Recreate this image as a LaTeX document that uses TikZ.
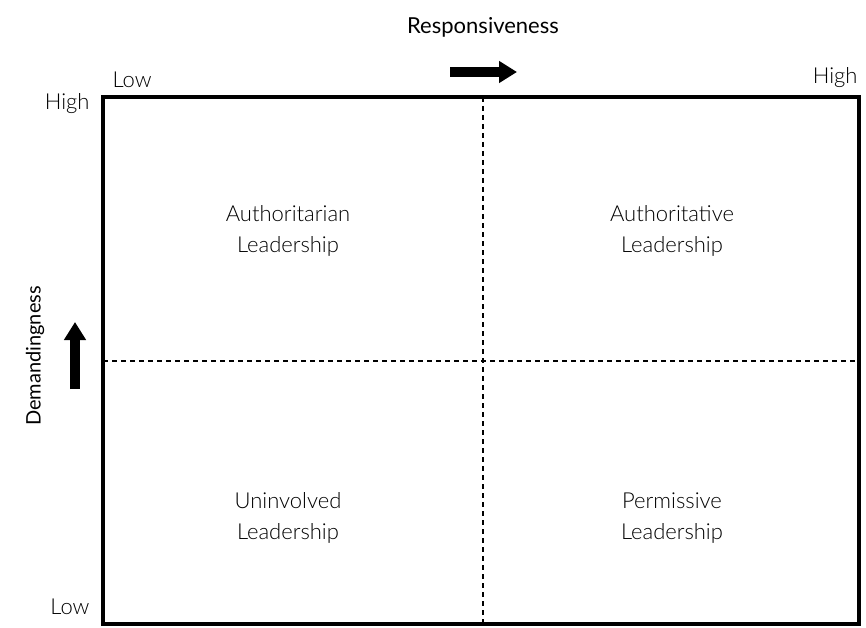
\documentclass[tikz,border=0pt]{standalone}
\usepackage{fontspec}
\setmainfont{Lato}[UprightFont={* Light},BoldFont={* Regular}]
\usetikzlibrary{arrows.meta}

\begin{document}
\begin{tikzpicture}[x=1pt,y=-1pt,
  quad/.style={align=center,font=\fontsize{22}{31}\selectfont},
  tick/.style={font=\fontsize{22}{24}\selectfont},
  axis/.style={font=\bfseries\fontsize{22}{24}\selectfont},
  bigarrow/.style={line width=10pt,-{Triangle[width=21pt,length=18pt]}}]
\useasboundingbox (0,0) rectangle (866,628);

% grid
\draw [line width=4pt] (103,97) rectangle (859,624);
\draw [dashed,line width=1.3pt,dash pattern=on 5pt off 4pt] (483,97) -- (483,624);
\draw [dashed,line width=1.3pt,dash pattern=on 5pt off 4pt] (103,361) -- (859,361);

% axes
\node [axis] (resp) at (483,27) {Responsiveness};
\node [axis,rotate=90,font=\bfseries\fontsize{20}{22}\selectfont] (dem) at (35,356) {Demandingness};
\draw [bigarrow] (450,72) -- (517,72);
\draw [bigarrow] (75,389) -- (75,322);

% ticks
\node [tick,anchor=south west] (xlow) at (109,91) {Low};
\node [tick,anchor=south east] (xhigh) at (861,91) {High};
\node [tick,anchor=east] (yhigh) at (93,104) {High};
\node [tick,anchor=east] (ylow) at (93,607) {Low};

% quadrants
\node [quad] (tl) at (288,231) {Authoritarian\\Leadership};
\node [quad] (tr) at (672,231) {Authoritative\\Leadership};
\node [quad] (bl) at (288,518) {Uninvolved\\Leadership};
\node [quad] (br) at (672,518) {Permissive\\Leadership};

\end{tikzpicture}
\end{document}
